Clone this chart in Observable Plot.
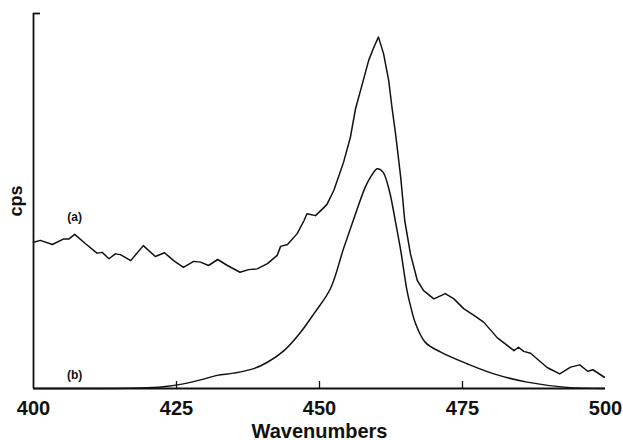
<!DOCTYPE html>
<html>
<head>
<meta charset="utf-8">
<script src="https://cdn.jsdelivr.net/npm/d3@7"></script>
<script src="https://cdn.jsdelivr.net/npm/@observablehq/plot@0.6"></script>
<style>
  html, body { margin: 0; padding: 0; background: #fff; }
  #chart svg { display: block; }
</style>
</head>
<body>
<div id="chart"></div>
<script>
// Curve (a): wavenumber and counts (arbitrary units, 0–100)
const waveA = [400.0, 401.2, 403.3, 405.3, 406.2, 407.2, 409.1, 411.1, 412.0, 413.2, 414.3, 415.2, 417.0, 419.2, 421.3, 422.9, 424.5, 426.2, 428.0, 429.2, 430.6, 432.2, 433.9, 436.1, 437.6, 439.1, 440.9, 442.6, 443.2, 444.4, 446.1, 447.3, 447.8, 449.3, 450.8, 451.3, 452.5, 454.2, 455.4, 456.3, 457.5, 458.6, 459.5, 460.3, 461.2, 462.1, 462.7, 463.3, 464.2, 464.9, 465.9, 467.1, 468.2, 470.0, 472.0, 473.5, 475.2, 477.0, 478.7, 481.1, 484.0, 484.8, 485.7, 486.9, 489.8, 492.0, 493.9, 495.5, 496.9, 497.8, 499.8];
const cpsA  = [39.0, 39.5, 38.4, 39.9, 39.9, 41.1, 38.6, 36.1, 36.3, 34.6, 35.9, 35.7, 34.1, 38.1, 35.2, 36.2, 34.1, 32.3, 33.9, 33.7, 32.8, 34.4, 32.8, 31.0, 31.7, 31.9, 33.3, 35.5, 37.9, 38.4, 41.3, 44.8, 46.6, 46.1, 48.3, 49.1, 52.8, 60.3, 67.0, 74.6, 81.3, 87.5, 91.0, 93.7, 89.3, 82.1, 74.6, 67.9, 56.3, 44.8, 35.9, 28.8, 26.1, 23.9, 25.3, 23.9, 21.3, 19.5, 17.7, 13.5, 10.1, 11.0, 9.9, 9.4, 5.6, 3.9, 5.7, 6.3, 4.6, 5.0, 3.0];

// Curve (b)
const waveB = [400.0, 410.0, 420.0, 423.5, 425.7, 429.2, 432.1, 435.0, 438.5, 440.9, 443.8, 446.7, 449.0, 451.9, 454.2, 456.3, 458.0, 458.9, 460.1, 461.1, 462.2, 463.3, 464.2, 465.3, 465.9, 466.8, 468.5, 471.2, 475.8, 480.5, 486.3, 493.3, 499.8];
const cpsB  = [0.0, 0.0, 0.2, 0.6, 1.1, 2.3, 3.5, 4.1, 5.3, 7.0, 10.1, 15.0, 19.9, 26.6, 37.3, 46.6, 53.7, 56.3, 58.6, 57.7, 52.8, 44.3, 36.8, 26.1, 22.1, 17.3, 12.3, 9.7, 6.6, 3.9, 1.7, 0.3, 0.0];

const xTicks = [400, 425, 450, 475, 500];
const innerTicks = [425, 450, 475];
const seriesLabels = ["(a)", "(b)"];

const A = waveA.map((w, i) => ({w, v: cpsA[i]}));
const B = waveB.map((w, i) => ({w, v: cpsB[i]}));

const ink = "#111";
const font = "Liberation Sans, Arial, Helvetica, sans-serif";

const chart = Plot.plot({
  width: 623,
  height: 440,
  marginLeft: 33,
  marginRight: 18,
  marginTop: 13,
  marginBottom: 52,
  style: {fontFamily: font, fontWeight: "bold", color: ink, background: "#fff"},
  x: {domain: [400, 500]},
  y: {domain: [0, 100]},
  marks: [
    Plot.axisX({ticks: xTicks, tickSize: 0, tickPadding: 12, fontSize: 20, fontWeight: "bold",
      label: "Wavenumbers", labelAnchor: "center", labelArrow: "none", tickFormat: d => String(d)}),
    Plot.axisY({ticks: [], tickSize: 0, label: "cps", labelAnchor: "center", labelOffset: 24,
      labelArrow: "none", fontSize: 18, fontWeight: "bold"}),
    Plot.ruleY([0], {stroke: ink, strokeWidth: 2}),
    Plot.ruleX([400], {stroke: ink, strokeWidth: 1.8}),
    Plot.ruleX(innerTicks, {y1: 0, y2: 0, insetBottom: 7, stroke: ink, strokeWidth: 1.3}),
    Plot.ruleY([100], {x1: 400, x2: 400, insetRight: -7, stroke: ink, strokeWidth: 1.8}),
    Plot.line(A, {x: "w", y: "v", stroke: ink, strokeWidth: 1.5, curve: "linear"}),
    Plot.line(B, {x: "w", y: "v", stroke: ink, strokeWidth: 1.5, curve: "catmull-rom"}),
    Plot.text([{w: waveA[5], v: cpsA[5], t: seriesLabels[0]}], {x: "w", y: "v", text: "t", dy: -17, fontSize: 12, fontWeight: "bold", fill: ink}),
    Plot.text([{w: waveA[5], v: cpsB[0], t: seriesLabels[1]}], {x: "w", y: "v", text: "t", dy: -13, fontSize: 12, fontWeight: "bold", fill: ink})
  ]
});
document.getElementById("chart").appendChild(chart);
</script>
</body>
</html>
